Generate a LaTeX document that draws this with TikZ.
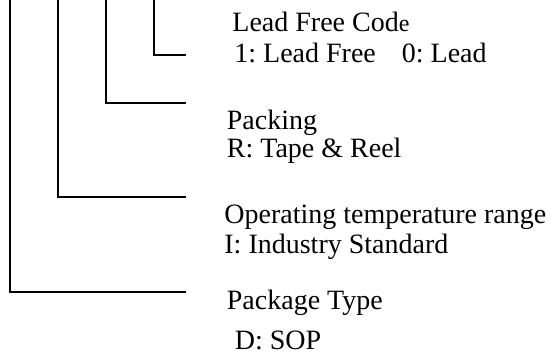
\documentclass[tikz,border=0pt]{standalone}
\usepackage{fontspec}
\setmainfont{Liberation Serif}
\frenchspacing

\begin{document}
\begin{tikzpicture}[x=0.5pt, y=-0.5pt, font=\fontsize{14}{16}\selectfont,
    lbl/.style={anchor=base west, inner sep=0pt},
    lead/.style={line width=1pt}]
  \useasboundingbox (0,0) rectangle (551,356);
  % free ends of the leads
  \coordinate (top1) at (10,0);
  \coordinate (top2) at (58,0);
  \coordinate (top3) at (106,0);
  \coordinate (top4) at (154,0);
  \coordinate (end1) at (186,292);
  \coordinate (end2) at (186,197);
  \coordinate (end3) at (186,103);
  \coordinate (end4) at (186,55);
  \draw[lead] (top1) |- (end1);
  \draw[lead] (top2) |- (end2);
  \draw[lead] (top3) |- (end3);
  \draw[lead] (top4) |- (end4);
  % the code fields
  \node[lbl] (leadT) at (232,32) {Lead Free Cod{\fontsize{12}{14}\selectfont e}};
  \node[lbl] (leadV) at (234,63) {1: Lead Free\hspace{13pt}0: Lead};
  \node[lbl] (packT) at (226.5,130) {Packing};
  \node[lbl] (packV) at (226.5,158) {R: Tape \& Reel};
  \node[lbl] (tempT) at (224,224) {Operating temperature range};
  \node[lbl] (tempV) at (224,254) {I: Industry Standard};
  \node[lbl] (typeT) at (226.5,310) {Package Type};
  \node[lbl] (typeV) at (234.5,350) {D: SOP};
\end{tikzpicture}
\end{document}
